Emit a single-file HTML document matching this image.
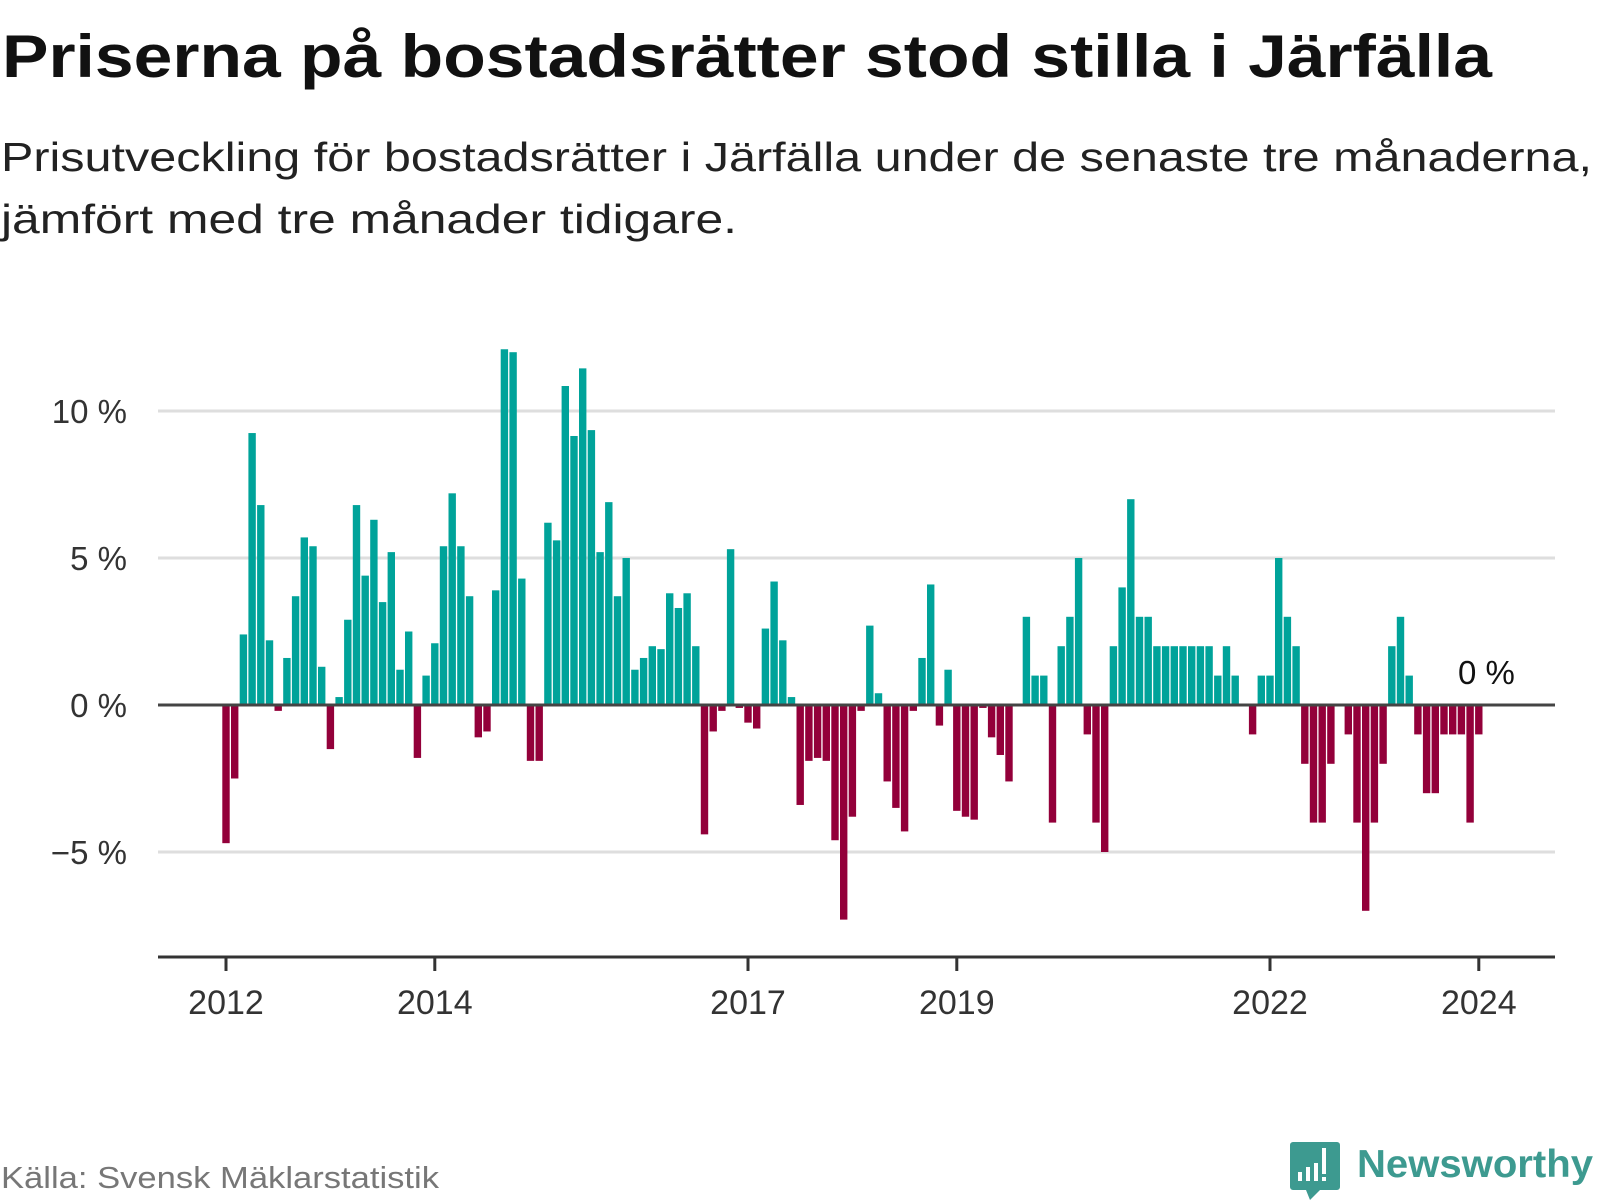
<!DOCTYPE html>
<html><head><meta charset="utf-8"><style>
html,body{margin:0;padding:0;background:#fff;}
svg{display:block;font-family:"Liberation Sans",sans-serif;}
</style></head><body>
<svg id="chart" width="1600" height="1200" viewBox="0 0 1600 1200">
<text x="2" y="77" font-size="60" font-weight="bold" fill="#111" textLength="1490" lengthAdjust="spacingAndGlyphs">Priserna på bostadsrätter stod stilla i Järfälla</text>
<text x="1" y="171" font-size="41" fill="#222" textLength="1591" lengthAdjust="spacingAndGlyphs">Prisutveckling för bostadsrätter i Järfälla under de senaste tre månaderna,</text>
<text x="1" y="233" font-size="41" fill="#222" textLength="736" lengthAdjust="spacingAndGlyphs">jämfört med tre månader tidigare.</text>
<g id="grid"></g>
<g id="bars"></g>
<g id="axes"></g>
<text x="1458" y="684" font-size="33" fill="#111">0 %</text>
<text x="1" y="1188" font-size="31" fill="#777" textLength="438" lengthAdjust="spacingAndGlyphs">Källa: Svensk Mäklarstatistik</text>
<g>
<path d="M1293 1142 h44 a3 3 0 0 1 3 3 v42 a3 3 0 0 1 -3 3 h-17 l-10 10 l-4 -10 h-13 a3 3 0 0 1 -3 -3 v-42 a3 3 0 0 1 3 -3z" fill="#3d9a90"/>
<rect x="1298" y="1172" width="4" height="9" fill="#fff"/>
<rect x="1306" y="1167" width="4" height="14" fill="#fff"/>
<rect x="1314" y="1163" width="4" height="18" fill="#fff"/>
<rect x="1322" y="1148" width="4" height="26" fill="#fff"/>
<rect x="1322" y="1177" width="4" height="4" fill="#fff"/>
<text x="1357" y="1177" font-size="39" font-weight="bold" fill="#3d9a90" textLength="236" lengthAdjust="spacingAndGlyphs">Newsworthy</text>
</g>
</svg>
<script>
const values = [-4.7,-2.5,2.4,9.25,6.8,2.2,-0.2,1.6,3.7,5.7,5.4,1.3,
-1.5,0.27,2.9,6.8,4.4,6.3,3.5,5.2,1.2,2.5,-1.8,1.0,
2.1,5.4,7.2,5.4,3.7,-1.1,-0.9,3.9,12.1,12.0,4.3,-1.9,
-1.9,6.2,5.6,10.85,9.15,11.45,9.35,5.2,6.9,3.7,5.0,1.2,
1.6,2.0,1.9,3.8,3.3,3.8,2.0,-4.4,-0.9,-0.2,5.3,-0.1,
-0.6,-0.8,2.6,4.2,2.2,0.27,-3.4,-1.9,-1.8,-1.9,-4.6,-7.3,
-3.8,-0.2,2.7,0.4,-2.6,-3.5,-4.3,-0.2,1.6,4.1,-0.7,1.2,
-3.6,-3.8,-3.9,-0.1,-1.1,-1.7,-2.6,0,3,1,1,-4,
2,3,5,-1,-4,-5,2,4,7,3,3,2,
2,2,2,2,2,2,1,2,1,0,-1,1,
1,5,3,2,-2,-4,-4,-2,0,-1,-4,-7,
-4,-2,2,3,1,-1,-3,-3,-1,-1,-1,-4,
-1];
const startYear = 2012;
const yTicks = [-5, 0, 5, 10];
const yTickLabels = ["\u22125 %", "0 %", "5 %", "10 %"];
const xTickYears = [2012, 2014, 2017, 2019, 2022, 2024];

const NS = "http://www.w3.org/2000/svg";
const x0 = 226, monthW = 8.7;
const y0 = 705, perPct = 29.4;
const left = 158, right = 1555, bottom = 957;
function xScale(i){ return x0 + i*monthW; }
function yScale(v){ return y0 - v*perPct; }
function mk(tag, attrs, parent){ const e=document.createElementNS(NS,tag); for(const k in attrs) e.setAttribute(k,attrs[k]); parent.appendChild(e); return e; }

const grid = document.getElementById('grid');
yTicks.forEach((t,k)=>{
  if(t!==0){
    const l = mk('line',{x1:left,x2:right,y1:yScale(t),y2:yScale(t),stroke:'#dedede','stroke-width':3},grid);
    
    
  }
  const tx = mk('text',{x:127,y:yScale(t)+12,'font-size':33,fill:'#333','text-anchor':'end'},grid);
  
  
  tx.textContent = yTickLabels[k];
});

const bars = document.getElementById('bars');
const bw = 7.4;
values.forEach((v,i)=>{
  if(v===0) return;
  const y = Math.min(yScale(v), y0), h = Math.abs(yScale(v)-y0);
  const r = mk('rect',{x:xScale(i)-bw/2,y:y,width:bw,height:h,fill:v>0?'#00a39a':'#93003a'},bars);
  
  
});

const axes = document.getElementById('axes');
const zl = mk('line',{x1:left,x2:right,y1:y0,y2:y0,stroke:'#444','stroke-width':3},axes);


const xa = mk('line',{x1:left,x2:right,y1:bottom,y2:bottom,stroke:'#333','stroke-width':3},axes);


xTickYears.forEach(yr=>{
  const x = xScale((yr-startYear)*12);
  const tk = mk('line',{x1:x,x2:x,y1:bottom,y2:bottom+14,stroke:'#333','stroke-width':3},axes);
  
  
  const t = mk('text',{x:x,y:1014,'font-size':34,fill:'#333','text-anchor':'middle'},axes);
  
  
  t.textContent = yr;
});
</script>
</body></html>
